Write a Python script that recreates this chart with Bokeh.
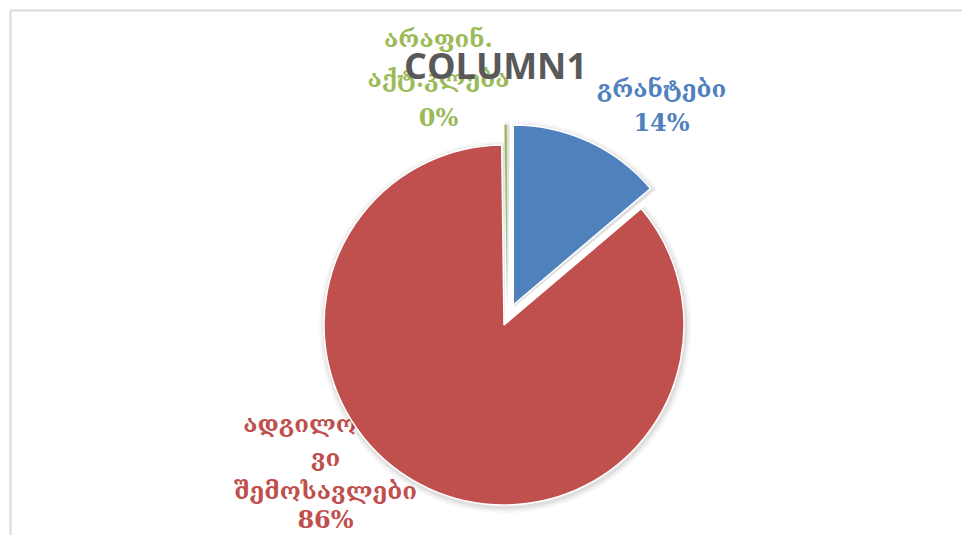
import math
from bokeh.plotting import figure
from bokeh.models import Range1d
from bokeh.core.properties import value
from bokeh.embed import file_html
from bokeh.resources import INLINE

# ---- data ----
categories = ["გრანტები", "ადგილობრივი შემოსავლები", "არაფინ. აქტ.კლება"]
values = [13.8, 86.0, 0.2]
colors = ["#4F81BD", "#C0504D", "#9BBB59"]
title_text = "COLUMN1"

# ---- layout / style (reference pixel space: x right, y down) ----
W, H = 962, 535
OX, OY = 0, 0
CX, CY, R = 503.5, 324.5, 180.0  # pie centre / radius in reference pixels
explode = [22, 0, 20]            # pixels
label_wrap = [["გრანტები"], ["ადგილობრი", "ვი", "შემოსავლები"], ["არაფინ.", "აქტ.კლება"]]
label_cx = [661, 325, 438]
label_baselines = [[88, 122], [423, 457, 490, 519], [38, 78, 117]]
label_font = "DejaVu Serif"
label_size = "24px"

def dx(x):
    return x

def dy(y):
    return 551 - y

p = figure(width=W, height=H, output_backend="svg", toolbar_location=None,
           x_axis_type=None, y_axis_type=None, min_border=0,
           x_range=Range1d(OX, OX + W), y_range=Range1d(551 - OY - H, 551 - OY))
p.outline_line_color = None
p.grid.visible = False
p.background_fill_color = "white"
p.border_fill_color = "white"

# chart border
p.segment(x0=[dx(10), dx(10)], y0=[dy(10), dy(10)], x1=[dx(10), dx(990)], y1=[dy(600), dy(10)],
          line_color="#D9D9D9", line_width=2)

total = sum(values)
fracs = [v / total for v in values]
cum = [0.0]
for f in fracs:
    cum.append(cum[-1] + f)

# labels (drawn first, pie covers them)
for i, cat in enumerate(categories):
    pct = f"{round(fracs[i] * 100)}%"
    lines = label_wrap[i] + [pct]
    for ln, by in zip(lines, label_baselines[i]):
        p.text(x=[dx(label_cx[i])], y=[dy(by)], text=[ln], text_color=colors[i],
               text_font=value(label_font), text_font_size=label_size, text_font_style="bold",
               text_align="center", text_baseline="alphabetic")

# slices
centres = []
for i in range(len(values)):
    a0, a1 = cum[i], cum[i + 1]
    mid = (a0 + a1) / 2 * 2 * math.pi
    ex = explode[i]
    cx = CX + ex * math.sin(mid) + (3 if i == 2 else 0)
    cy = CY - ex * math.cos(mid)
    centres.append((cx, cy, a0, a1))

# soft shadow
for grow, alpha in [(6, 0.03), (4, 0.04), (2, 0.06)]:
    for (cx, cy, a0, a1) in centres:
        p.wedge(x=[dx(cx + 1)], y=[dy(cy + 2)], radius=R + grow,
                start_angle=math.pi / 2 - a1 * 2 * math.pi - 0.01,
                end_angle=math.pi / 2 - a0 * 2 * math.pi + 0.01,
                fill_color="black", fill_alpha=alpha, line_color=None)

for i, (cx, cy, a0, a1) in enumerate(centres):
    border = None if i == 2 else "white"
    p.wedge(x=[dx(cx)], y=[dy(cy)], radius=R,
            start_angle=math.pi / 2 - a1 * 2 * math.pi,
            end_angle=math.pi / 2 - a0 * 2 * math.pi,
            fill_color=colors[i], line_color=border, line_width=1.5)

# title
p.text(x=[dx(495)], y=[dy(65)], text=[title_text], text_color="#595959",
       text_font=value("Open Sans"), text_font_size="36px", text_font_style="bold",
       text_align="center", text_baseline="alphabetic")

open("out.html", "w").write(file_html(p, INLINE))
